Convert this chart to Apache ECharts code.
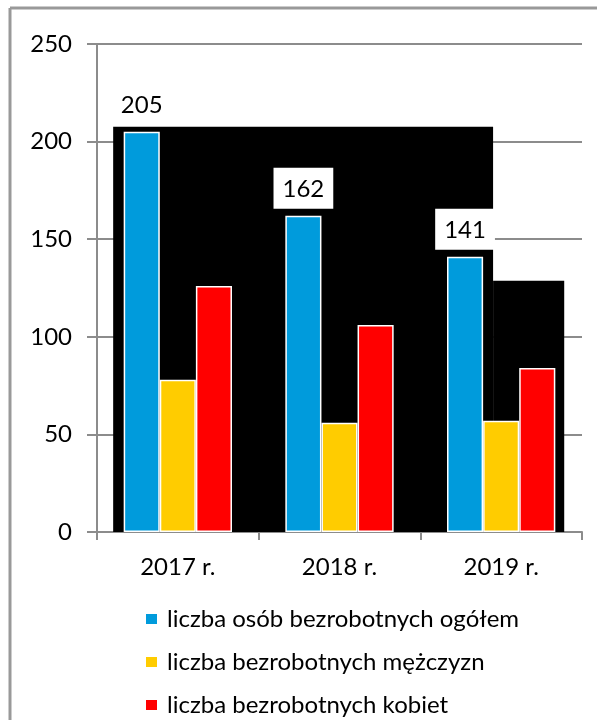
<!DOCTYPE html>
<html>
<head>
<meta charset="utf-8">
<script src="https://cdn.jsdelivr.net/npm/echarts@6/dist/echarts.min.js"></script>
<style>
  html, body { margin: 0; padding: 0; background: #fff; }
  #chart { width: 597px; height: 720px; }
</style>
</head>
<body>
<div id="chart"></div>
<script>
// dane
const years = ['2017 r.', '2018 r.', '2019 r.'];
const ogolem = [205, 162, 141];
const mezczyzn = [78, 56, 57];
const kobiet = [126, 106, 84];
const seriesNames = [
    'liczba osób bezrobotnych ogółem',
    'liczba bezrobotnych mężczyzn',
    'liczba bezrobotnych kobiet'
];
const yTicks = [0, 50, 100, 150, 200, 250];
// czarne tło za słupkami (w jednostkach osi: od, do, wysokość)
const backdrop = [[0.1, 2.45, 207.6], [2.45, 2.89, 128.7]];

const fontFamily = 'Lato, "Open Sans", sans-serif';
const gridColor = '#8c8c8c';
const fontSize = 24;

const chart = echarts.init(document.getElementById('chart'));

const barStyle = function (color) {
    return { color: color, borderColor: '#fff', borderWidth: 1.5 };
};

const option = {
    animation: false,
    backgroundColor: '#fff',
    textStyle: { fontFamily: fontFamily, color: '#000' },
    // ramka strony
    graphic: [
        { type: 'line', shape: { x1: 10, y1: 8, x2: 597, y2: 8 }, style: { stroke: '#999', lineWidth: 3 } },
        { type: 'line', shape: { x1: 10, y1: 8, x2: 10, y2: 720 }, style: { stroke: '#999', lineWidth: 3 } }
    ],
    grid: { left: 97, right: 15, top: 44, bottom: 188 },
    legend: {
        data: seriesNames,
        orient: 'vertical',
        left: 144,
        top: 607,
        height: 200,
        padding: 0,
        itemWidth: 13,
        itemHeight: 12,
        itemGap: 19,
        icon: 'rect',
        textStyle: { fontSize: fontSize, color: '#000', fontFamily: fontFamily, padding: [0, 0, 0, 4] }
    },
    xAxis: [
        {
            type: 'category',
            data: years,
            axisLine: { lineStyle: { color: gridColor, width: 2 } },
            axisTick: { show: true, length: 8, lineStyle: { color: gridColor, width: 2 } },
            axisLabel: { fontSize: fontSize, color: '#000', margin: 23, fontFamily: fontFamily }
        },
        {
            type: 'value',
            min: 0,
            max: 3,
            show: false
        }
    ],
    yAxis: {
        type: 'value',
        min: yTicks[0],
        max: yTicks[yTicks.length - 1],
        interval: 50,
        axisLine: { show: true, lineStyle: { color: gridColor, width: 2 } },
        axisTick: { show: true, length: 10, lineStyle: { color: gridColor, width: 2 } },
        splitLine: { lineStyle: { color: gridColor, width: 2 } },
        axisLabel: { fontSize: fontSize, color: '#000', margin: 25, fontFamily: fontFamily }
    },
    series: [
        {
            type: 'custom',
            xAxisIndex: 1,
            silent: true,
            z: 1,
            data: backdrop,
            renderItem: function (params, api) {
                const p0 = api.coord([api.value(0), api.value(2)]);
                const p1 = api.coord([api.value(1), 0]);
                return {
                    type: 'rect',
                    shape: { x: p0[0], y: p0[1], width: p1[0] - p0[0], height: p1[1] - p0[1] },
                    style: { fill: '#000' }
                };
            }
        },
        {
            name: seriesNames[0],
            type: 'bar',
            z: 3,
            data: ogolem,
            barGap: '0%',
            barCategoryGap: '33%',
            itemStyle: barStyle('#009bdc'),
            label: {
                show: true,
                position: 'top',
                distance: 7,
                fontSize: fontSize,
                color: '#000',
                fontFamily: fontFamily,
                backgroundColor: '#fff',
                padding: [9, 9, 8, 9]
            }
        },
        {
            name: seriesNames[1],
            type: 'bar',
            z: 3,
            data: mezczyzn,
            barGap: '0%',
            barCategoryGap: '33%',
            itemStyle: barStyle('#ffcc00')
        },
        {
            name: seriesNames[2],
            type: 'bar',
            z: 3,
            data: kobiet,
            barGap: '0%',
            barCategoryGap: '33%',
            itemStyle: barStyle('#ff0000')
        }
    ]
};

chart.setOption(option);
</script>
</body>
</html>
